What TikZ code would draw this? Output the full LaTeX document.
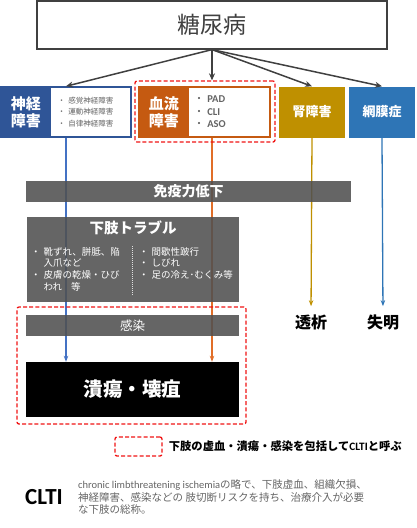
\documentclass[tikz,border=0pt]{standalone}
\usepackage{fontspec}
\setmainfont{Noto Sans CJK JP}
\newfontfamily\jp{Noto Sans CJK JP}
\newfontfamily\lat{Carlito}
\usepackage{tikz}
\usetikzlibrary{arrows.meta,positioning,calc,backgrounds}
\usepackage{xcolor}
\definecolor{nav}{RGB}{47,85,151}
\definecolor{org}{RGB}{197,90,17}
\definecolor{gld}{RGB}{191,144,0}
\definecolor{sky}{RGB}{46,117,182}
\definecolor{ink}{RGB}{64,64,64}
\definecolor{gry}{RGB}{80,80,80}
\definecolor{txg}{RGB}{100,100,100}
\definecolor{lnb}{RGB}{68,114,196}
\definecolor{lno}{RGB}{225,110,40}
\definecolor{frm}{RGB}{240,20,20}
\newcommand{\bt}{{\jp\mdseries ・}\hspace{3pt}}
\newcommand{\bi}{\phantom{\jp ・}\hspace{3pt}}
\tikzset{
  topbox/.style={draw=ink,line width=1.2pt,fill=white,text=ink,
    font=\fontsize{23}{25}\selectfont,inner sep=0pt},
  outer/.style={draw=#1,line width=1.5pt,fill=white,inner sep=0pt},
  hdr/.style={fill=#1,text=white,inner sep=0pt,align=center,
    font=\fontsize{15}{17}\selectfont\bfseries},
  lst/.style={inner sep=0pt,align=left,text=txg},
  bar/.style={fill=gry,fill opacity=.88,text opacity=1,text=white,inner sep=0pt},
  frame/.style={draw=frm,line width=1.3pt,dash pattern=on 4pt off 2.2pt,rounded corners=2pt},
  arr/.style={-{Stealth[length=7pt,width=6pt]},line width=1.5pt,ink},
  vline/.style={-{Stealth[length=6pt,width=4.5pt]},line width=1.3pt},
  res/.style={inner sep=0pt,font=\fontsize{16}{18}\selectfont\bfseries},
}
\begin{document}
\begin{tikzpicture}[x=1pt,y=-1pt]
  \useasboundingbox (0,0) rectangle (416,528);
  % top
  \node[topbox,minimum width=350,minimum height=48] (dm) at (212,25) {糖尿病};
  % second row
  \node[outer=nav,minimum width=130,minimum height=50] (nerve) at (66,112) {};
  \node[hdr=nav,minimum width=51,minimum height=51,anchor=west] (nerveh) at (nerve.west) {神経\\障害};
  \node[lst,anchor=west,font=\fontsize{7.5}{11.5}\selectfont] (nervel) at ([xshift=6pt]nerveh.east)
    {\bt 感覚神経障害\\\bt 運動神経障害\\\bt 自律神経障害};
  \node[outer=org,minimum width=131,minimum height=50] (blood) at (204.5,112) {};
  \node[hdr=org,minimum width=51,minimum height=51,anchor=west] (bloodh) at (blood.west) {血流\\障害};
  \node[lst,anchor=west,font=\fontsize{10.5}{12.5}\selectfont\lat\bfseries] (bloodl) at ([xshift=4pt]bloodh.east)
    {\bt PAD\\\bt CLI\\\bt ASO};
  \node[frame,minimum width=140,minimum height=61] (redA) at (205,111.5) {};
  \node[hdr=gld,minimum width=66,minimum height=51,font=\fontsize{13}{15}\selectfont\bfseries] (kid) at (312,112) {腎障害};
  \node[hdr=sky,minimum width=66,minimum height=51,font=\fontsize{13}{15}\selectfont\bfseries] (eye) at (382,112) {網膜症};
  \draw[arr] (dm.south) -- (nerve.north);
  \draw[arr] (dm.south) -- (dm.south |- redA.north);
  \draw[arr] (dm.south) -- (kid.north);
  \draw[arr] (dm.south) -- (eye.north);
  % middle
  \node[bar,minimum width=325,minimum height=21,font=\fontsize{14}{16}\selectfont\bfseries] (imm) at (188.5,191.5) {免疫力低下};
  \node[bar,minimum width=212,minimum height=85] (leg) at (133,259.5) {};
  \node[text=white,inner sep=0pt,font=\fontsize{14.5}{16}\selectfont\bfseries] (legt) at (133,228) {下肢トラブル};
  \node[lst,text=white,anchor=north west,font=\fontsize{9.5}{11.8}\selectfont] (legl) at (31,247)
    {\bt 靴ずれ、胼胝、陥\\\bi 入爪など\\\bt 皮膚の乾燥・ひび\\\bi われ\hspace{9pt}等};
  \node[lst,text=white,anchor=north west,font=\fontsize{9.5}{11.8}\selectfont] (legr) at (139,247)
    {\bt 間歇性跛行\\\bt しびれ\\\bt 足の冷え･むくみ等};
  \draw[white!75!gray,densely dotted,line width=1pt] ($(leg.south)+(-1,-7)$) -- ($(leg.south)+(-1,-57)$);
  % bottom
  \node[bar,minimum width=213,minimum height=21,font=\fontsize{12.5}{14}\selectfont] (inf) at (132.5,325.5) {感染};
  \node[fill=black,text=white,minimum width=213,minimum height=55,inner sep=0pt,
    font=\fontsize{19.5}{21}\selectfont\bfseries] (ulc) at (132.5,389.5) {潰瘍・壊疽};
  \node[frame,minimum width=229,minimum height=117] (redB) at (131.5,365.5) {};
  \node[res] (dial) at (311,322) {透析};
  \node[res] (blind) at (383,322) {失明};
  \begin{scope}[on background layer]
    \draw[vline,lnb] (nerve.south) -- (nerve.south |- ulc.north);
    \draw[vline,lno] (dm.south |- blood.south) -- (dm.south |- ulc.north);
    \draw[vline,gld,shorten >=8pt] (kid.south) -- (dial.north);
    \draw[vline,sky,shorten >=8pt] (eye.south) -- (blind.north);
  \end{scope}
  % legend
  \node[frame,minimum width=47,minimum height=19] (key) at (138.5,446.5) {};
  \node[right=6pt of key,inner sep=0pt,font=\fontsize{11.3}{13}\selectfont\bfseries] (keyt)
    {下肢の虚血・潰瘍・感染を包括して{\lat CLTI}と呼ぶ};
  \node[inner sep=0pt,font=\fontsize{23}{25}\selectfont\lat\bfseries] (clti) at (44,497) {CLTI};
  \node[lst,anchor=west,font=\fontsize{10.5}{12.5}\selectfont] (desc) at (78,497)
    {{\lat chronic limbthreatening ischemia}の略で、下肢虚血、組織欠損、\\
     神経障害、感染などの 肢切断リスクを持ち、治療介入が必要\\
     な下肢の総称。};
\end{tikzpicture}
\end{document}
